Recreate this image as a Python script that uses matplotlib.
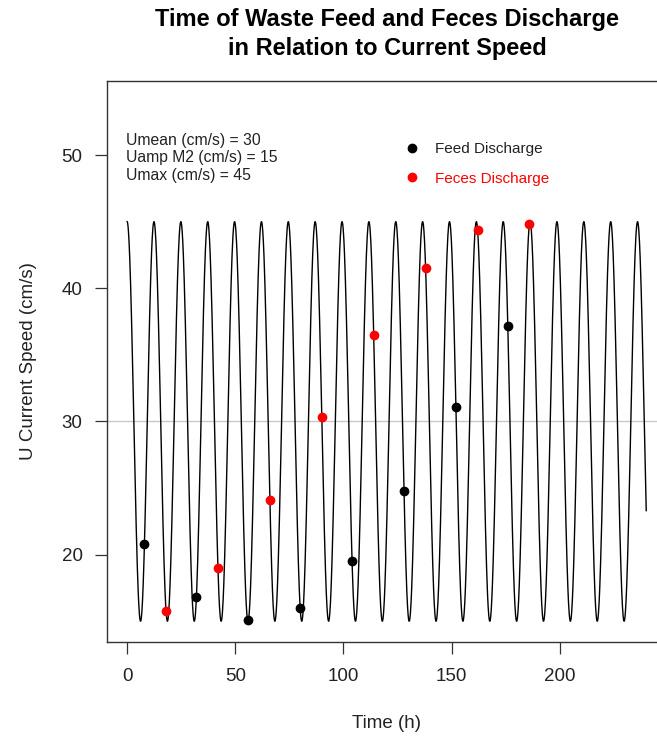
import numpy as np
import matplotlib
matplotlib.use("Agg")
import matplotlib.pyplot as plt
from matplotlib.lines import Line2D

# ---- data ----
u_mean = 30          # cm/s
u_amp_m2 = 15        # cm/s
m2_period = 12.42    # h
hours = np.arange(0, 240.001, 0.1)
speed = u_mean + u_amp_m2 * np.cos(2 * np.pi * hours / m2_period)

feed_time = [8, 32, 56, 80, 104, 128, 152, 176]
feed_speed = [20.8, 16.8, 15.1, 16.0, 19.5, 24.8, 31.1, 37.2]
feces_time = [18, 42, 66, 90, 114, 138, 162, 186]
feces_speed = [15.8, 19.0, 24.1, 30.3, 36.5, 41.5, 44.4, 44.8]

x_ticks = [0, 50, 100, 150, 200]
y_ticks = [20, 30, 40, 50]
info_lines = ["Umean (cm/s) = 30", "Uamp M2 (cm/s) = 15", "Umax (cm/s) = 45"]

plt.rcParams['font.family'] = ['Liberation Sans', 'DejaVu Sans']

fig = plt.figure(figsize=(6.57, 7.36), dpi=100)
W, H = 657, 736
left_px, right_px, top_px, bot_px = 107, 667, 81, 642
ax = fig.add_axes([left_px / W, (H - bot_px) / H,
                   (right_px - left_px) / W, (bot_px - top_px) / H])

ax.axhline(u_mean, color='#c8c8c8', lw=1.0, zorder=1)
ax.plot(hours, speed, color='black', lw=1.0, zorder=2)
ax.plot(feed_time, feed_speed, 'o', color='black', ms=6, zorder=3)
ax.plot(feces_time, feces_speed, 'o', color='red', ms=6, zorder=3)

ax.set_xlim(-9.3, 249.6)
ax.set_ylim(13.44, 55.56)
ax.set_xticks(x_ticks)
ax.set_yticks(y_ticks)
ax.tick_params(direction='out', length=8.5, width=0.9, color='#333333',
               labelsize=13.5, labelcolor='#222222')
ax.tick_params(axis='x', pad=10)
ax.tick_params(axis='y', pad=9)
for s in ax.spines.values():
    s.set_color('#333333')
    s.set_linewidth(1.0)

ax.set_xlabel("Time (h)", fontsize=13.5, color='#222222', labelpad=22)
ax.set_ylabel("U Current Speed (cm/s)", fontsize=13.5, color='#222222', labelpad=18)

fig.text((left_px + right_px) / 2 / W, 1 - 34 / H,
         "Time of Waste Feed and Feces Discharge\nin Relation to Current Speed",
         ha='center', va='center', fontsize=17, fontweight='bold',
         linespacing=1.3)

for i, line in enumerate(info_lines):
    ax.text(-0.7, 51.1 - i * 1.31, line, fontsize=11.3, color='#222222',
            ha='left', va='center')

handles = [Line2D([], [], marker='o', ls='none', color='black', ms=6),
           Line2D([], [], marker='o', ls='none', color='red', ms=6)]
leg = ax.legend(handles, ["Feed Discharge", "Feces Discharge"], frameon=False,
                loc='upper left', bbox_to_anchor=((404.5 - left_px) / (right_px - left_px),
                                                  1 - (142 - top_px) / (bot_px - top_px)),
                fontsize=11, labelspacing=1.02, handletextpad=1.0,
                handlelength=1.0, borderpad=0, borderaxespad=0,
                labelcolor=['#222222', 'red'])

fig.savefig("out.png", dpi=100)
